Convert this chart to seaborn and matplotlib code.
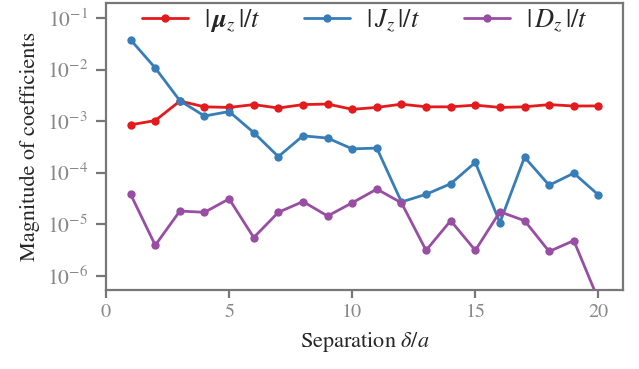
import numpy as np
import pandas as pd
import matplotlib
matplotlib.use("Agg")
import matplotlib.pyplot as plt
import matplotlib.ticker as mticker
import seaborn as sns

# separation in units of lattice constant
separation = list(range(1, 21))

mu_z = [8.5e-4, 1.03e-3, 2.46e-3, 1.9e-3, 1.85e-3, 2.1e-3, 1.8e-3, 2.1e-3, 2.15e-3, 1.7e-3,
        1.85e-3, 2.14e-3, 1.9e-3, 1.9e-3, 2.05e-3, 1.85e-3, 1.9e-3, 2.1e-3, 1.97e-3, 1.98e-3]
J_z = [3.8e-2, 1.08e-2, 2.5e-3, 1.26e-3, 1.54e-3, 6.0e-4, 2.05e-4, 5.2e-4, 4.7e-4, 2.9e-4,
       3.0e-4, 2.7e-5, 3.8e-5, 6.1e-5, 1.58e-4, 1.07e-5, 2.0e-4, 5.7e-5, 9.8e-5, 3.7e-5]
D_z = [3.8e-5, 3.9e-6, 1.8e-5, 1.7e-5, 3.1e-5, 5.5e-6, 1.7e-5, 2.75e-5, 1.44e-5, 2.6e-5,
       4.8e-5, 2.6e-5, 3.1e-6, 1.17e-5, 3.1e-6, 1.74e-5, 1.17e-5, 2.95e-6, 4.8e-6, 3.4e-7]

labels = [r"$|\,\boldsymbol{\mu}_z\,|/t$", r"$|\,J_z\,|/t$", r"$|\,D_z\,|/t$"]
colors = ["#e41a1c", "#377eb8", "#984ea3"]

sns.set_style("ticks")
plt.rcParams["font.family"] = ["STIXGeneral", "Liberation Serif", "DejaVu Serif"]
plt.rcParams["mathtext.fontset"] = "stix"

fig = plt.figure(figsize=(6.39, 3.69), dpi=100)
ax = fig.add_axes([0.1659, 0.2133, 0.975 - 0.1659, 0.9927 - 0.2133])

for vals, lab, col in zip([mu_z, J_z, D_z], labels, colors):
    sns.lineplot(x=separation, y=vals, ax=ax, color=col, marker="o",
                 markersize=6, markeredgewidth=0, linewidth=2, label=lab)

ax.set_yscale("log")
ax.set_xlim(0, 21)
ax.set_ylim(5.2e-7, 2e-1)
ax.yaxis.set_major_locator(mticker.FixedLocator([1e-6, 1e-5, 1e-4, 1e-3, 1e-2, 1e-1]))
ax.yaxis.set_minor_locator(mticker.NullLocator())
ax.set_xticks([0, 5, 10, 15, 20])

spine_col = "#777777"
for s in ax.spines.values():
    s.set_color(spine_col)
    s.set_linewidth(1.6)
ax.tick_params(axis="both", direction="out", length=6, width=1.6, color=spine_col,
               labelcolor="#888888")
ax.tick_params(axis="x", labelsize=14.5, pad=4)
ax.tick_params(axis="y", labelsize=15.5, length=7, pad=6)

ax.set_xlabel(r"Separation $\delta/a$", fontsize=16, labelpad=6)
ax.set_ylabel("Magnitude of coefficients", fontsize=16, labelpad=5)

ax.legend(loc="upper center", ncol=3, frameon=False, fontsize=19,
          handlelength=1.75, handletextpad=0.6, columnspacing=1.65,
          borderaxespad=0.0, bbox_to_anchor=(0.5, 1.02))

fig.savefig("out.png", dpi=100)
